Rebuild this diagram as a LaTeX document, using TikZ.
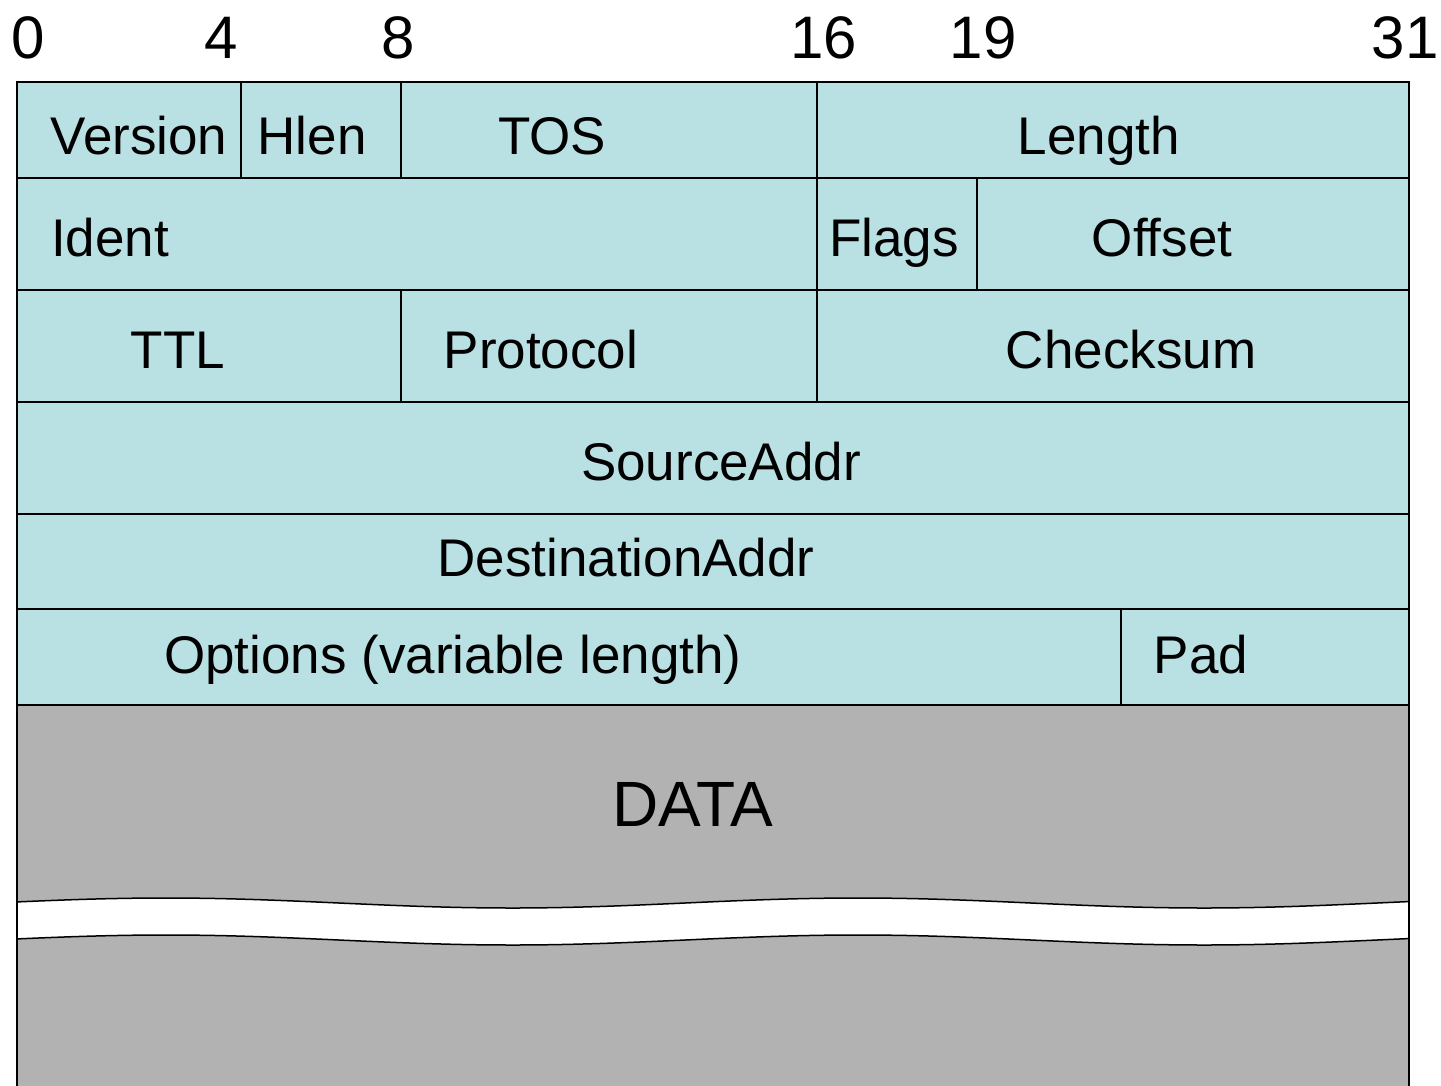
\documentclass[tikz,border=0pt]{standalone}
\usepackage{fontspec}
\setmainfont{Liberation Sans}
\definecolor{hdr}{RGB}{185,224,227}
\definecolor{datagray}{RGB}{178,178,178}
\begin{document}
\begin{tikzpicture}[x=1pt,y=-1pt,
  grid/.style={draw=black,line width=1.5pt},
  lbl/.style={anchor=base,inner sep=0pt,font=\fontsize{53}{60}\selectfont},
  bitno/.style={anchor=base,inner sep=0pt,font=\fontsize{60}{66}\selectfont},
  datalbl/.style={anchor=base,inner sep=0pt,font=\fontsize{64}{70}\selectfont}]
\useasboundingbox (0,0) rectangle (1441,1085);
% header background
\fill[hdr] (17,82) rectangle (1409,705);
% data area
\fill[datagray] (17,705) rectangle (1409,1090);
% white break band
\fill[white] plot[domain=17:1409,samples=120] (\x,{903-5*cos((\x-166)/692*360)})
  -- plot[domain=1409:17,samples=120] (\x,{940-5*cos((\x-166)/692*360)}) -- cycle;
\draw[line width=1.5pt] plot[domain=17:1409,samples=120] (\x,{903-5*cos((\x-166)/692*360)});
\draw[line width=1.5pt] plot[domain=17:1409,samples=120] (\x,{940-5*cos((\x-166)/692*360)});
% outer frame
\draw[grid] (17,1090) -- (17,82) -- (1409,82) -- (1409,1090);
% horizontal row lines
\foreach \yy in {178,290,402,514,609,705}
  \draw[grid] (17,\yy) -- (1409,\yy);
% vertical separators
\draw[grid] (241,82) -- (241,178);
\draw[grid] (401,82) -- (401,178);
\draw[grid] (817,82) -- (817,402);
\draw[grid] (977,178) -- (977,290);
\draw[grid] (401,290) -- (401,402);
\draw[grid] (1121,609) -- (1121,705);
% bit numbers
\node[bitno] (b0)  at (28,58)   {0};
\node[bitno] (b4)  at (221,58)  {4};
\node[bitno] (b8)  at (398,58)  {8};
\node[bitno] (b16) at (824,58)  {16};
\node[bitno] (b19) at (983,58)  {19};
\node[bitno] (b31) at (1405,58) {31};
% field labels
\node[lbl] (version) at (139,154)  {Version};
\node[lbl] (hlen)    at (312,154)  {Hlen};
\node[lbl] (tos)     at (552,154)  {TOS};
\node[lbl] (length)  at (1099,154) {Length};
\node[lbl] (ident)   at (110,256)  {Ident};
\node[lbl] (flags)   at (894,256)  {Flags};
\node[lbl] (offset)  at (1162,256) {Offset};
\node[lbl] (ttl)     at (178,368)  {TTL};
\node[lbl] (proto)   at (541,368)  {Protocol};
\node[lbl] (cksum)   at (1131,368) {Checksum};
\node[lbl] (src)     at (721,480)  {SourceAddr};
\node[lbl] (dst)     at (626,576)  {DestinationAddr};
\node[lbl] (opts)    at (453,673)  {Options (variable length)};
\node[lbl] (pad)     at (1201,673) {Pad};
\node[datalbl] (data) at (693,826) {DATA};
\end{tikzpicture}
\end{document}
